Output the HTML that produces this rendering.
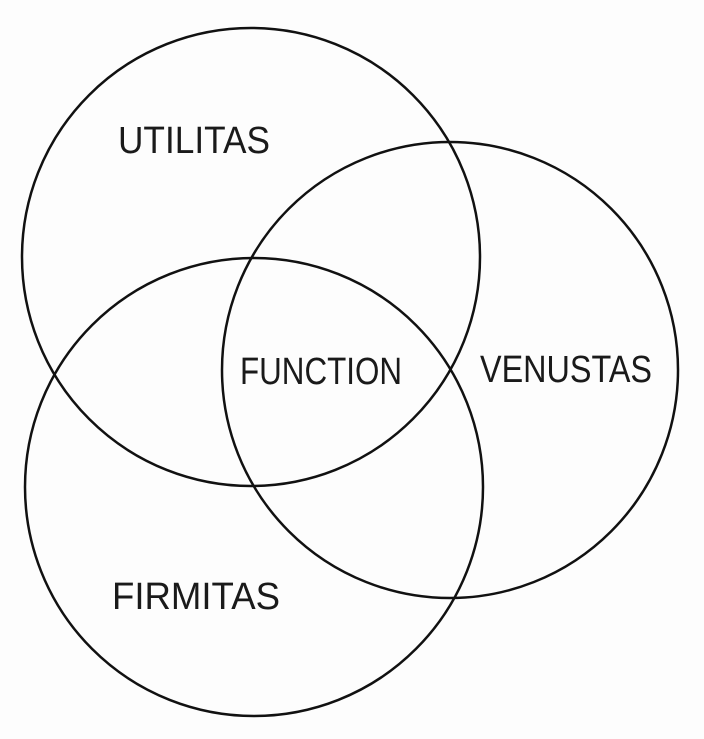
<!DOCTYPE html>
<html><head><meta charset="utf-8"><style>
html,body{margin:0;padding:0;background:#fdfdfd;}
svg{display:block;}
text{font-family:"Liberation Sans",sans-serif;font-size:38px;fill:#1a1a1a;}
</style></head><body>
<svg width="704" height="739" viewBox="0 0 704 739" xmlns="http://www.w3.org/2000/svg">
<g fill="none" stroke="#111" stroke-width="2.5">
<circle cx="251" cy="257" r="229"/>
<circle cx="450" cy="370" r="228"/>
<circle cx="254" cy="487" r="229"/>
</g>
<text x="118" y="153" textLength="152" lengthAdjust="spacingAndGlyphs">UTILITAS</text>
<text x="240" y="384" textLength="162" lengthAdjust="spacingAndGlyphs">FUNCTION</text>
<text x="480" y="382" textLength="172" lengthAdjust="spacingAndGlyphs">VENUSTAS</text>
<text x="112" y="609" textLength="168" lengthAdjust="spacingAndGlyphs">FIRMITAS</text>
</svg>
</body></html>
